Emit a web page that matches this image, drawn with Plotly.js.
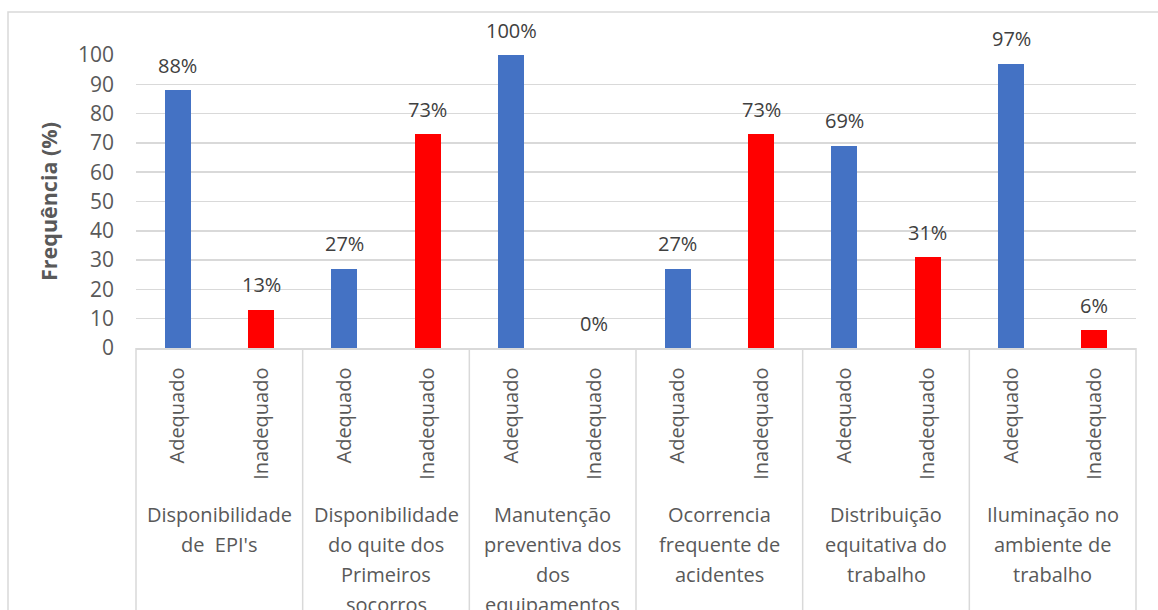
<!DOCTYPE html>
<html>
<head>
<meta charset="utf-8">
<script src="https://cdn.plot.ly/plotly-3.0.1.min.js"></script>
<style>
  html, body { margin: 0; padding: 0; background: #ffffff; }
  #chart { width: 1158px; height: 610px; }
</style>
</head>
<body>
<div id="chart"></div>
<script>
// Survey items (groups) and the two answer classes shown under each
const groups = [
  "Disponibilidade\nde  EPI's",
  "Disponibilidade\ndo quite dos\nPrimeiros\nsocorros",
  "Manutenção\npreventiva dos\ndos\nequipamentos",
  "Ocorrencia\nfrequente de\nacidentes",
  "Distribuição\nequitativa do\ntrabalho",
  "Iluminação no\nambiente de\ntrabalho"
];
const classes = ["Adequado", "Inadequado"];

// Frequency (%) per bar, in group order: Adequado, Inadequado
const frequencies = [88, 13, 27, 73, 100, 0, 27, 73, 69, 31, 97, 6];

const yTicks = [0, 10, 20, 30, 40, 50, 60, 70, 80, 90, 100];

const classColors = { "Adequado": "#4472C4", "Inadequado": "#FF0000" };

// Flatten group/class pairs into bar positions
const barLabels = [];
groups.forEach(() => classes.forEach(c => barLabels.push(c)));
const xPos = barLabels.map((_, i) => i);

const FONT = "Open Sans, Noto Sans, DejaVu Sans, sans-serif";
const GRID = "#d9d9d9";

const trace = {
  type: "bar",
  x: xPos,
  y: frequencies,
  width: 0.31,
  marker: { color: barLabels.map(c => classColors[c]), line: { width: 0 } },
  hoverinfo: "none",
  showlegend: false
};

// Value labels above each bar
const annotations = frequencies.map((v, i) => ({
  x: xPos[i], y: v, xref: "x", yref: "y",
  text: Math.round(v) + "%",
  showarrow: false,
  yanchor: "middle",
  yshift: 25,
  font: { family: FONT, size: 20, color: "#404040" }
}));

// Group captions under the class labels, one line per annotation
const nBars = xPos.length;
groups.forEach((g, gi) => {
  const center = gi * classes.length + (classes.length - 1) / 2;
  g.split("\n").forEach((line, li) => {
    annotations.push({
      x: center, y: 0, xref: "x", yref: "paper",
      text: line,
      showarrow: false,
      xanchor: "center", yanchor: "middle",
      yshift: -166 - 30 * li,
      font: { family: FONT, size: 20, color: "#595959" }
    });
  });
});

// Divider lines of the category table below the axis
const shapes = [];
for (let k = 0; k <= groups.length; k++) {
  const xp = (k * classes.length) / nBars;
  shapes.push({
    type: "line", xref: "paper", yref: "paper",
    x0: xp, x1: xp, y0: 0, y1: -1.2,
    line: { color: GRID, width: 1.5 }
  });
}
// Chart frame
shapes.push({
  type: "rect", xref: "paper", yref: "paper",
  x0: -0.128, x1: 1.2, y0: -1.2, y1: 1.1468,
  line: { color: GRID, width: 1.5 }, fillcolor: "rgba(0,0,0,0)", layer: "below"
});

const layout = {
  width: 1158, height: 610,
  margin: { l: 136, r: 22, t: 55, b: 262 },
  paper_bgcolor: "#ffffff",
  plot_bgcolor: "#ffffff",
  font: { family: FONT, size: 20, color: "#595959" },
  bargap: 0,
  xaxis: {
    range: [-0.5, nBars - 0.5],
    tickmode: "array",
    tickvals: xPos,
    ticktext: barLabels,
    tickangle: -90,
    ticks: "",
    ticklabelstandoff: 10,
    showgrid: false,
    zeroline: false,
    showline: true,
    linecolor: GRID,
    linewidth: 1.5,
    tickfont: { family: FONT, size: 20, color: "#595959" },
    fixedrange: true
  },
  yaxis: {
    range: [0, 100],
    tickmode: "array",
    tickvals: yTicks,
    ticktext: yTicks.map(String),
    showgrid: true,
    gridcolor: GRID,
    gridwidth: 1.5,
    zeroline: false,
    showline: false,
    ticks: "",
    ticklabelstandoff: 21,
    tickfont: { family: FONT, size: 21, color: "#595959" },
    title: {
      text: "<b>Frequência (%)</b>",
      standoff: 14,
      font: { family: FONT, size: 21.5, color: "#595959" }
    },
    fixedrange: true
  },
  annotations: annotations,
  shapes: shapes
};

Plotly.newPlot("chart", [trace], layout, { displayModeBar: false, staticPlot: true });
</script>
</body>
</html>
